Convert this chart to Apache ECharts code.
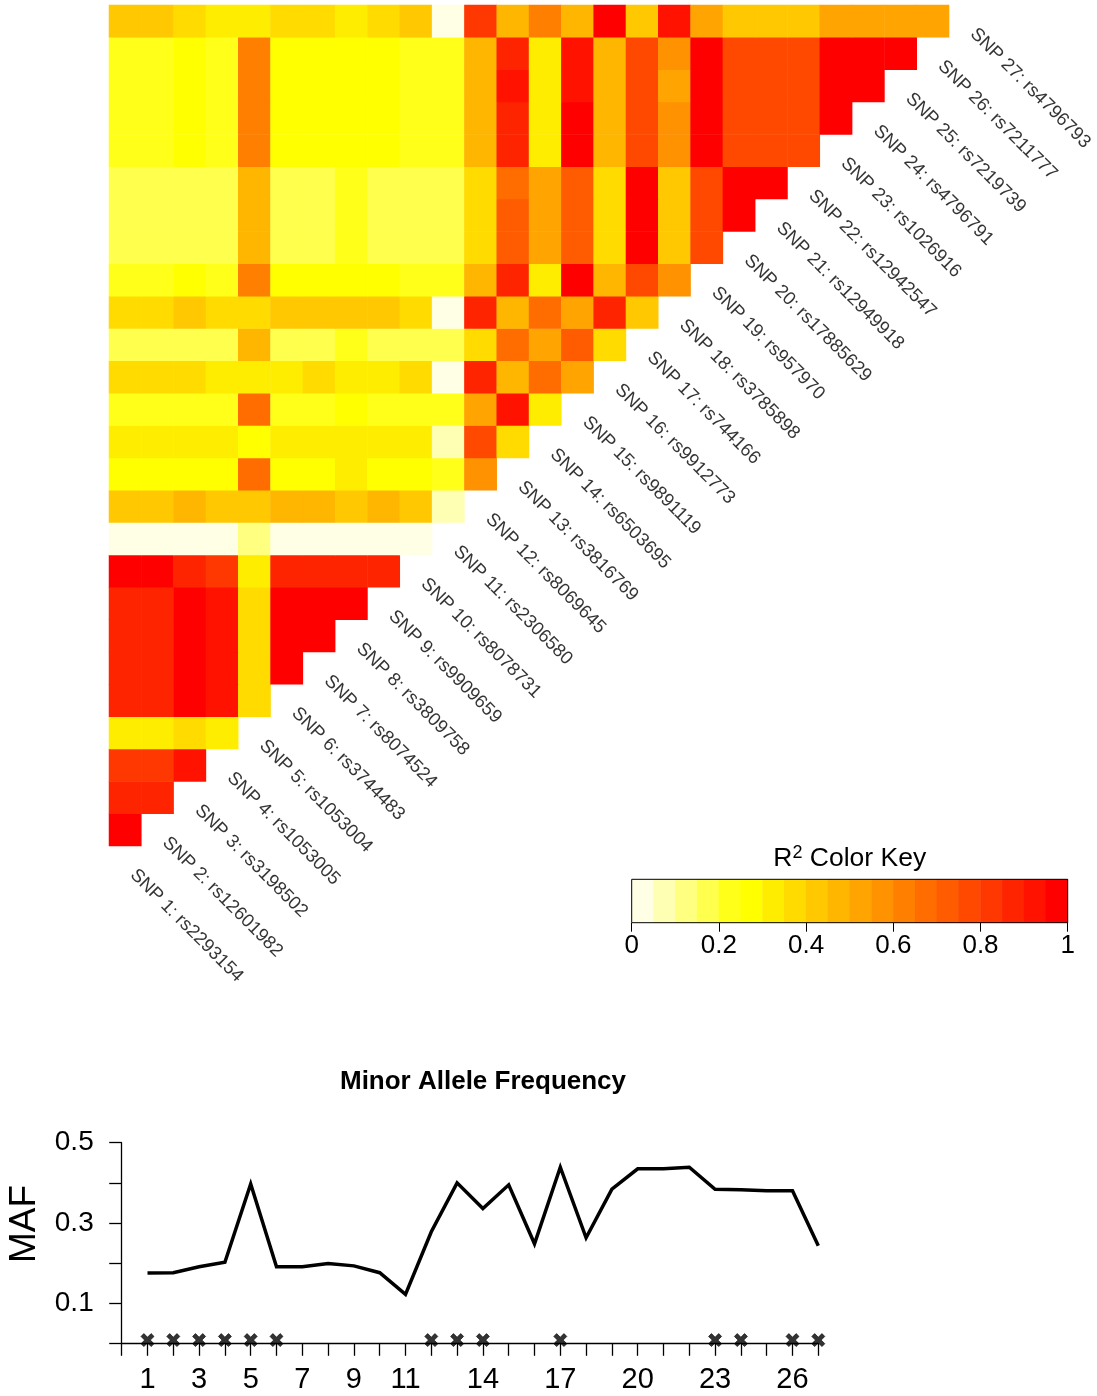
<!DOCTYPE html>
<html><head><meta charset="utf-8">
<script src="https://cdn.jsdelivr.net/npm/echarts@6/dist/echarts.min.js"></script>
<style>html,body{margin:0;padding:0;background:#fff}#c{width:1097px;height:1396px}</style>
</head><body><div id="c"></div>
<script>
// ---- data ----
const snpIds = ['rs2293154','rs12601982','rs3198502','rs1053005','rs1053004','rs3744483','rs8074524','rs3809758','rs9909659','rs8078731','rs2306580','rs8069645','rs3816769','rs6503695','rs9891119','rs9912773','rs744166','rs3785898','rs957970','rs17885629','rs12949918','rs12942547','rs1026916','rs4796791','rs7219739','rs7211777','rs4796793'];
// r2Rows[k] : r-squared of SNP (k+2) with SNP 1 .. SNP (k+1)
const r2Rows = [
  [0.98],
  [0.88,0.88],
  [0.82,0.82,0.92],
  [0.32,0.32,0.38,0.32],
  [0.88,0.88,0.98,0.92,0.38],
  [0.88,0.88,0.98,0.92,0.38,0.98],
  [0.88,0.88,0.98,0.92,0.38,0.98,0.98],
  [0.88,0.88,0.98,0.92,0.38,0.98,0.98,0.98],
  [0.98,0.98,0.88,0.82,0.32,0.88,0.88,0.88,0.88],
  [0.02,0.02,0.02,0.02,0.12,0.02,0.02,0.02,0.02,0.02],
  [0.42,0.42,0.48,0.42,0.42,0.48,0.48,0.42,0.48,0.42,0.08],
  [0.28,0.28,0.28,0.28,0.68,0.28,0.28,0.32,0.28,0.28,0.22,0.58],
  [0.32,0.32,0.32,0.32,0.28,0.32,0.32,0.32,0.32,0.32,0.08,0.78,0.38],
  [0.22,0.22,0.22,0.22,0.68,0.22,0.22,0.28,0.22,0.22,0.22,0.52,0.92,0.32],
  [0.38,0.38,0.38,0.32,0.32,0.32,0.38,0.32,0.32,0.38,0.02,0.88,0.48,0.68,0.52],
  [0.18,0.18,0.18,0.18,0.48,0.18,0.18,0.22,0.18,0.18,0.18,0.38,0.68,0.52,0.72,0.38],
  [0.38,0.38,0.42,0.38,0.38,0.42,0.42,0.42,0.42,0.38,0.02,0.88,0.48,0.68,0.52,0.88,0.42],
  [0.22,0.22,0.28,0.22,0.62,0.28,0.28,0.28,0.28,0.22,0.22,0.48,0.88,0.32,0.98,0.48,0.78,0.58],
  [0.18,0.18,0.18,0.18,0.48,0.18,0.18,0.22,0.18,0.18,0.18,0.38,0.72,0.52,0.72,0.38,0.98,0.42,0.78],
  [0.18,0.18,0.18,0.18,0.48,0.18,0.18,0.22,0.18,0.18,0.18,0.38,0.72,0.52,0.72,0.38,0.98,0.42,0.78,0.98],
  [0.18,0.18,0.18,0.18,0.48,0.18,0.18,0.22,0.18,0.18,0.18,0.38,0.68,0.52,0.72,0.38,0.98,0.42,0.78,0.98,0.98],
  [0.22,0.22,0.28,0.22,0.62,0.28,0.28,0.28,0.28,0.22,0.22,0.48,0.88,0.32,0.98,0.48,0.78,0.58,0.98,0.78,0.78,0.78],
  [0.22,0.22,0.28,0.22,0.62,0.28,0.28,0.28,0.28,0.22,0.22,0.48,0.88,0.32,0.98,0.48,0.78,0.58,0.98,0.78,0.78,0.78,0.98],
  [0.22,0.22,0.28,0.22,0.62,0.28,0.28,0.28,0.28,0.22,0.22,0.48,0.92,0.32,0.92,0.48,0.78,0.52,0.98,0.78,0.78,0.78,0.98,0.98],
  [0.22,0.22,0.28,0.22,0.62,0.28,0.28,0.28,0.28,0.22,0.22,0.48,0.88,0.32,0.92,0.48,0.78,0.58,0.98,0.78,0.78,0.78,0.98,0.98,0.98],
  [0.42,0.42,0.38,0.32,0.32,0.38,0.38,0.32,0.38,0.42,0.02,0.82,0.48,0.62,0.48,0.98,0.42,0.92,0.52,0.42,0.42,0.42,0.52,0.52,0.52,0.52]
];
const keyBreaks = [0,0.05,0.1,0.15,0.2,0.25,0.3,0.35,0.4,0.45,0.5,0.55,0.6,0.65,0.7,0.75,0.8,0.85,0.9,0.95,1];
const keyColors = ['#FFFFE6','#FFFFB3','#FFFF80','#FFFF4D','#FFFF1A','#FFFF00','#FFED00','#FFDB00','#FFC800','#FFB600','#FFA400','#FF9200','#FF8000','#FF6D00','#FF5B00','#FF4900','#FF3700','#FF2400','#FF1200','#FF0000'];
const keyTickLabels = [0,0.2,0.4,0.6,0.8,1];
const mafValues = [0.175,0.176,0.191,0.202,0.397,0.191,0.191,0.199,0.193,0.176,0.122,0.278,0.400,0.336,0.395,0.248,0.439,0.263,0.384,0.435,0.435,0.439,0.384,0.383,0.380,0.380,0.243];
const tagSnps = [1,2,3,4,5,6,12,13,14,17,23,24,26,27];
const tagLevel = 0.008;
const mafXLabels = [1,3,5,7,9,11,14,17,20,23,26];
const mafYLabels = [0.1,0.3,0.5];

// ---- build ----
const FONT = '"Liberation Sans", Arial, Helvetica, sans-serif';
const snpCats = snpIds.map((_, i) => String(i + 1));
const heatData = [];
r2Rows.forEach((row, k) => { row.forEach((v, j) => heatData.push([j, k + 1, v])); });
const labelData = snpIds.map((id, i) => ({ value: [i, i], name: 'SNP ' + (i + 1) + ': ' + id }));
const keyCats = keyColors.map((_, i) => String(i));
const keyData = keyColors.map((_, i) => [i, 0, (keyBreaks[i] + keyBreaks[i + 1]) / 2]);
const pieces = keyColors.map((c, i) => i === keyColors.length - 1
  ? { gte: keyBreaks[i], lte: keyBreaks[i + 1], color: c }
  : { gte: keyBreaks[i], lt: keyBreaks[i + 1], color: c });
const has = (arr, v) => arr.some(a => Math.abs(a - v) < 1e-9);

const CELLW = 32.31, CELLH = 32.35;
const option = {
  animation: false,
  textStyle: { fontFamily: FONT, color: '#000' },
  grid: [
    { left: 109, top: 5, width: CELLW * 27, height: CELLH * 27 },
    { left: 631.7, top: 879.3, width: 436, height: 43.4, show: true, borderColor: '#000', borderWidth: 1, backgroundColor: 'transparent', z: 5 },
    { left: 121.7, top: 1142.7, width: 696.6, height: 200.6 }
  ],
  xAxis: [
    { type: 'category', gridIndex: 0, data: snpCats, show: false },
    { type: 'category', gridIndex: 1, data: keyCats, show: false },
    { type: 'value', gridIndex: 1, min: 0, max: 1, interval: 0.2, position: 'bottom',
      axisLine: { show: false }, splitLine: { show: false },
      axisTick: { show: true, inside: false, length: 9, lineStyle: { color: '#000', width: 1 } },
      axisLabel: { fontSize: 26, color: '#000', margin: 10, fontFamily: FONT,
        formatter: v => has(keyTickLabels, v) ? String(+v.toFixed(1)) : '' } },
    { type: 'value', gridIndex: 2, min: 0, max: 27, interval: 1,
      axisLine: { show: true, lineStyle: { color: '#000', width: 1.3 } },
      axisTick: { show: true, inside: false, length: 12.5, lineStyle: { color: '#000', width: 1.3 } },
      splitLine: { show: false },
      axisLabel: { fontSize: 29, color: '#000', margin: 22, fontFamily: FONT,
        formatter: v => has(mafXLabels, v) ? String(v) : '' } }
  ],
  yAxis: [
    { type: 'category', gridIndex: 0, data: snpCats, show: false },
    { type: 'category', gridIndex: 1, data: ['key'], show: false },
    { type: 'value', gridIndex: 2, min: 0, max: 0.5, interval: 0.1,
      axisLine: { show: true, lineStyle: { color: '#000', width: 1.3 } },
      axisTick: { show: true, inside: false, length: 12.5, lineStyle: { color: '#000', width: 1.3 } },
      splitLine: { show: false },
      axisLabel: { fontSize: 28, color: '#000', margin: 28, fontFamily: FONT,
        formatter: v => has(mafYLabels, v) ? String(+v.toFixed(1)) : '' } }
  ],
  visualMap: {
    type: 'piecewise', show: false, dimension: 2, seriesIndex: [0, 1], pieces: pieces
  },
  series: [
    { type: 'heatmap', xAxisIndex: 0, yAxisIndex: 0, data: heatData, itemStyle: { borderWidth: 0 }, emphasis: { disabled: true } },
    { type: 'heatmap', xAxisIndex: 1, yAxisIndex: 1, data: keyData, itemStyle: { borderWidth: 0 }, emphasis: { disabled: true } },
    { type: 'scatter', xAxisIndex: 0, yAxisIndex: 0, data: labelData, symbolSize: 0, silent: true,
      label: { show: true, position: 'inside', formatter: '{b}', rotate: -45, align: 'left', verticalAlign: 'middle',
        offset: [12.7, 1.4], fontSize: 18.5, color: '#000', fontFamily: FONT } },
    { type: 'line', xAxisIndex: 3, yAxisIndex: 2, data: mafValues.map((v, i) => [i + 1, v]),
      symbol: 'none', lineStyle: { color: '#000', width: 3.5, join: 'miter' }, z: 3 },
    { type: 'scatter', xAxisIndex: 3, yAxisIndex: 2, data: tagSnps.map(s => [s, tagLevel]),
      symbol: 'path://M0,2.2 L2.2,0 L5,2.8 L7.8,0 L10,2.2 L7.2,5 L10,7.8 L7.8,10 L5,7.2 L2.2,10 L0,7.8 L2.8,5 Z',
      symbolSize: 13, itemStyle: { color: '#000', borderColor: '#000', borderWidth: 0.8 }, z: 4 }
  ],
  graphic: [
    { type: 'text', x: 849.7, y: 859, style: {
        text: '{m|R}{s|2}{m| Color Key}', align: 'center', verticalAlign: 'middle', textAlign: 'center', textVerticalAlign: 'middle',
        fill: '#000', font: '26px ' + FONT,
        rich: { m: { fontSize: 26.5, fontFamily: FONT, lineHeight: 30, fill: '#000' },
                s: { fontSize: 18, fontFamily: FONT, lineHeight: 30, verticalAlign: 'top', fill: '#000' } } } },
    { type: 'text', x: 483, y: 1082, style: {
        text: 'Minor Allele Frequency', align: 'center', verticalAlign: 'middle', textAlign: 'center', textVerticalAlign: 'middle',
        fill: '#000', font: 'bold 26px ' + FONT } },
    { type: 'text', x: 25, y: 1224, rotation: Math.PI / 2, style: {
        text: 'MAF', align: 'center', verticalAlign: 'middle', textAlign: 'center', textVerticalAlign: 'middle',
        fill: '#000', font: '37px ' + FONT } }
  ]
};
echarts.init(document.getElementById('c'), null, { renderer: 'canvas' }).setOption(option);
</script>
</body></html>
